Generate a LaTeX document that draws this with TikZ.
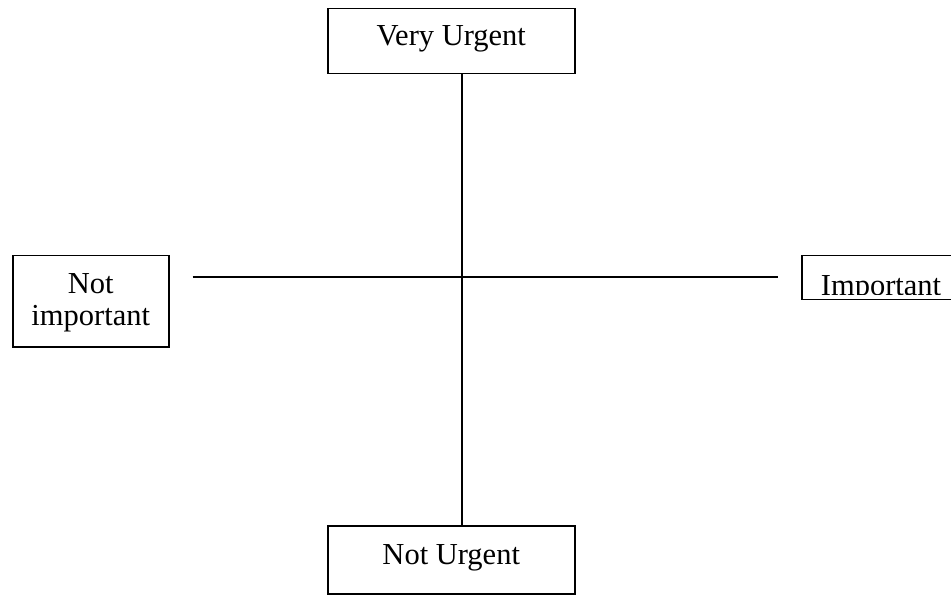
\documentclass[tikz,border=0pt]{standalone}
\usepackage{fontspec}
\setmainfont{Liberation Serif}
\usepackage{tikz}

\begin{document}
\begin{tikzpicture}[x=1pt, y=-1pt, line width=1.5pt,
        box/.style={draw, anchor=north west, font=\fontsize{30.5}{32}\selectfont},
        onerow/.style={text height=21pt, text depth=12pt}]
        \useasboundingbox (0,0) rectangle (951,596);
        \clip (0,0) rectangle (951,596);
        \coordinate (c) at (462,277);
        \node   (vu) [box, onerow, minimum width=247, minimum height=65] at (327,8)    {Very Urgent};
        \node   (nu) [box, onerow, minimum width=247, minimum height=68] at (327,525)  {Not Urgent};
        \node   (ni) [box, align=center, text depth=3pt, minimum width=156, minimum height=91] at (12,255) {Not\\important};
        \node   (imp) [box, minimum width=190, minimum height=44] at (801,255) {};
        \begin{scope}
        \clip ([yshift=6pt]imp.south west) rectangle (imp.north east);
        \node   (implbl) [anchor=base, font=\fontsize{30.5}{32}\selectfont] at (881,295) {Important};
        \end{scope}
        \draw (vu.south -| c) -- (nu.north -| c);
        \draw ([xshift=23pt]ni.east |- c) -- ([xshift=-23pt]imp.west |- c);
    \end{tikzpicture}
\end{document}
